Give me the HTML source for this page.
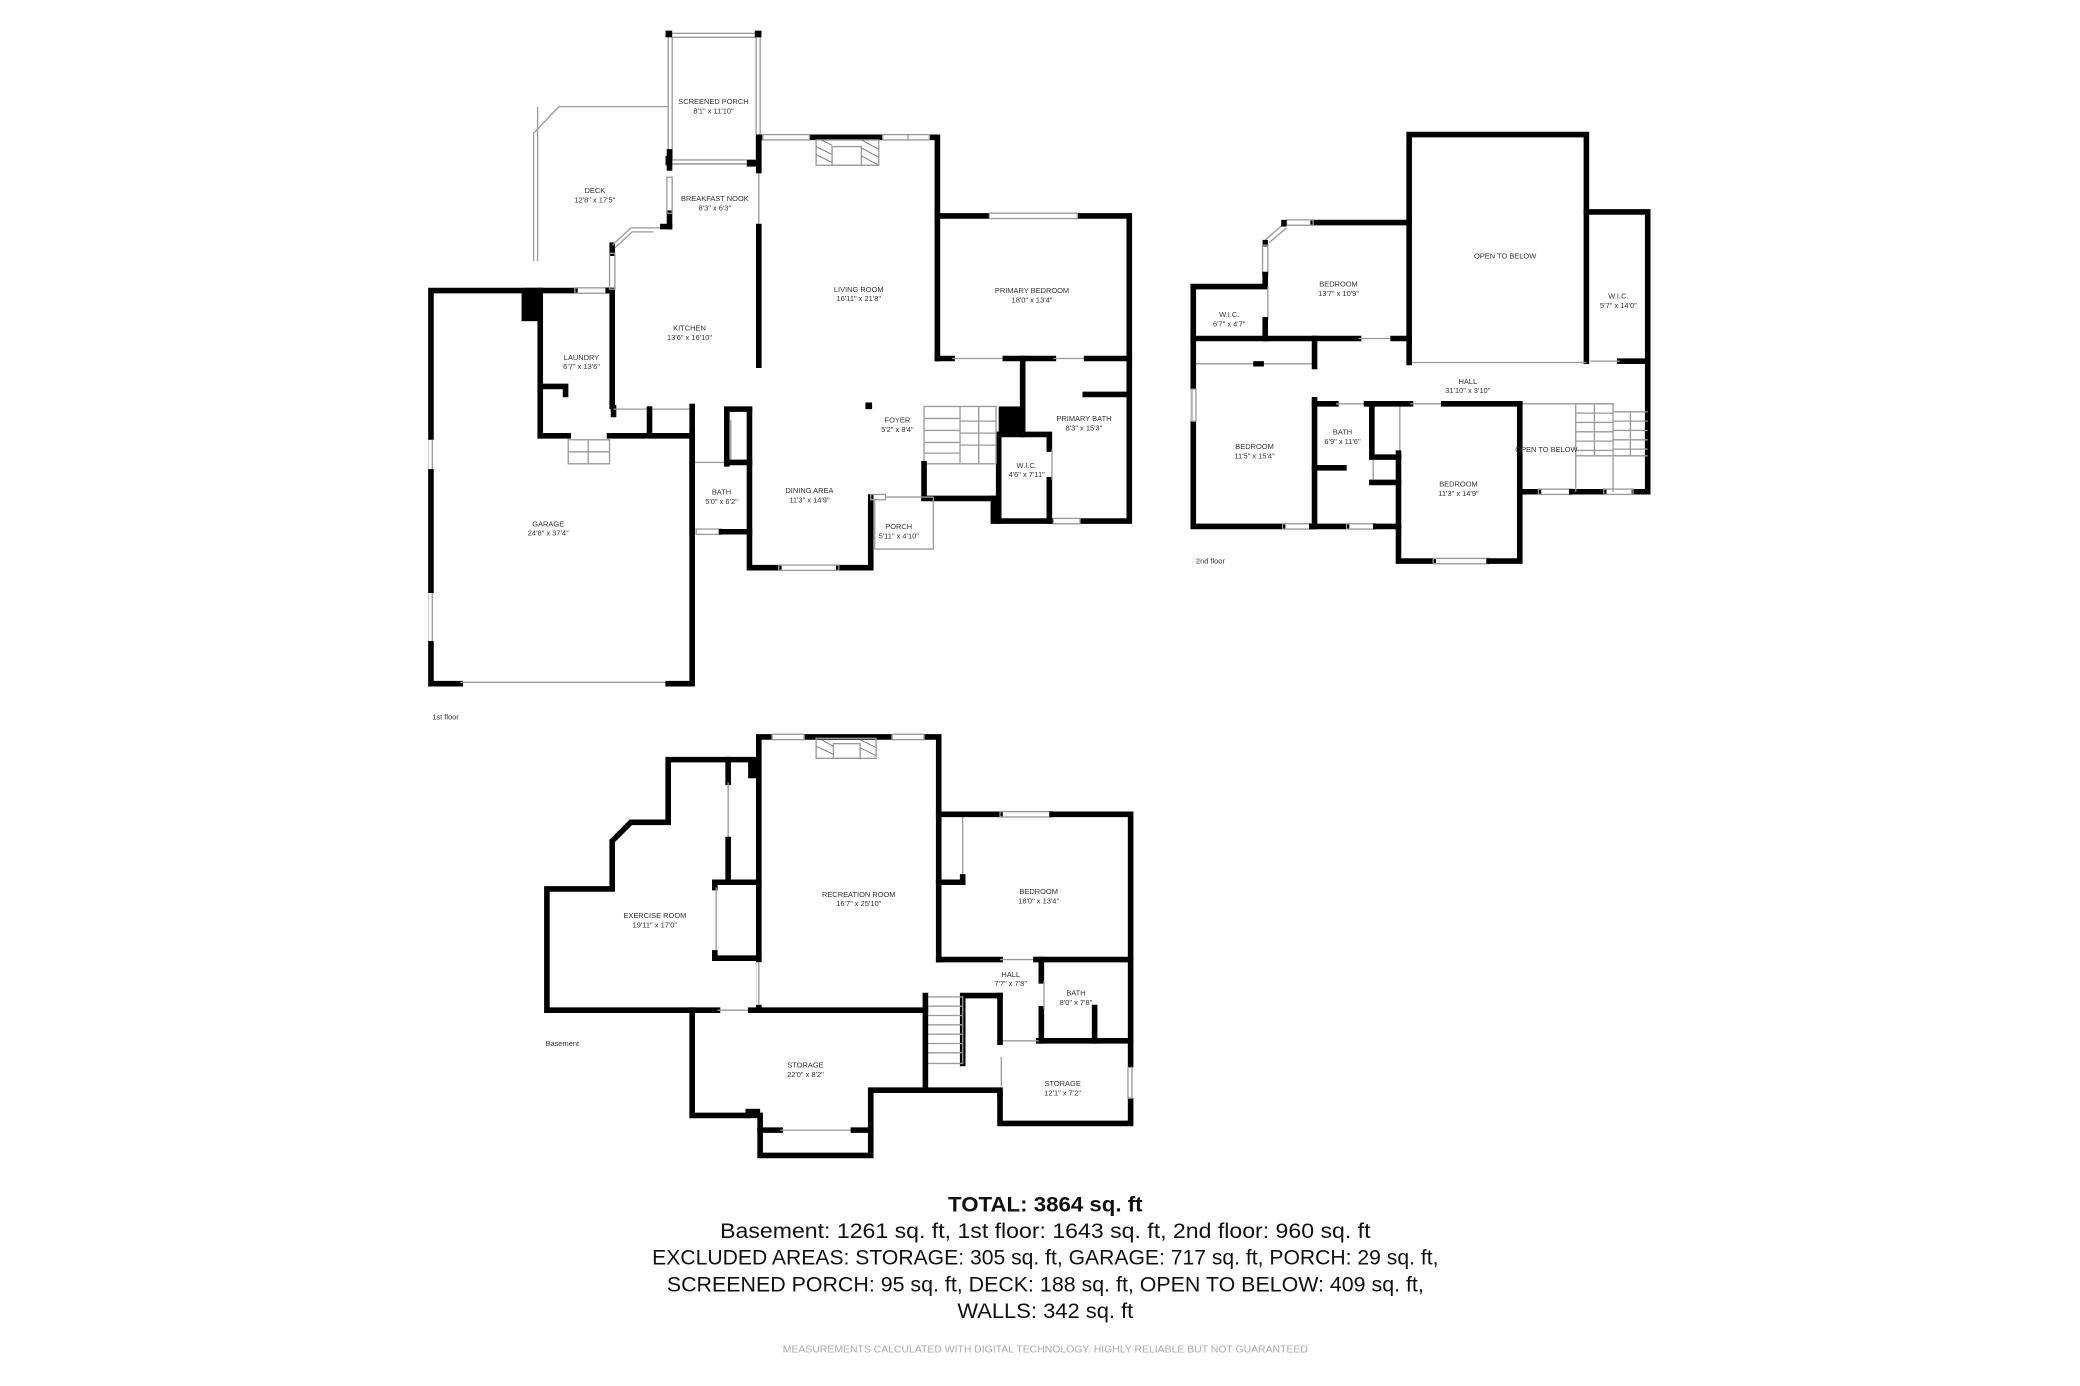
<!DOCTYPE html>
<html><head><meta charset="utf-8"><style>
html,body{margin:0;padding:0;background:#fff;}
svg{display:block;}
text{font-family:"Liberation Sans",sans-serif;}
.l{font-size:5.6px;fill:#333;text-anchor:middle;}
.w{stroke:#000;stroke-width:4.2;fill:none;stroke-linecap:square;}
.t{stroke:#9a9a9a;stroke-width:1;fill:none;}
.f{fill:#000;}
.tot{fill:#111;text-anchor:middle;}
</style></head><body>
<svg width="2080" height="1386" viewBox="0 0 1560 1040" xmlns="http://www.w3.org/2000/svg">
<rect width="1560" height="1040" fill="#fff"/>

<!-- ============ 1ST FLOOR ============ -->
<polyline class="t" points="501,80 419,80 400,100 400,196"/>
<polyline class="t" points="403,80 403,196"/>
<rect class="t" x="501" y="25" width="69" height="98"/>
<rect class="t" x="504" y="28" width="63" height="92"/>
<rect class="f" x="499" y="23" width="5" height="5"/>
<rect class="f" x="566" y="23" width="5" height="5"/>
<rect class="f" x="499" y="117" width="5" height="7"/>
<rect class="f" x="560" y="120" width="10" height="5"/>
<polyline class="w" points="345,513 323,513 323,218 431,218"/>
<line class="t" x1="345" y1="512" x2="501" y2="512"/>
<polyline class="w" points="501,513 519,513 519,325"/>
<rect class="f" x="391" y="216" width="15" height="25"/>
<rect fill="#fff" x="321" y="330" width="5" height="22"/>
<line class="t" x1="324" y1="330" x2="324" y2="352"/>
<rect fill="#fff" x="321" y="445" width="5" height="36"/>
<line class="t" x1="324" y1="445" x2="324" y2="481"/>
<rect class="t" x="431" y="216" width="25" height="4"/>
<line class="w" x1="456" y1="218" x2="459" y2="218"/>
<polyline class="w" points="405,218 405,327 426,327"/>
<polyline class="w" points="405,290 424,290 424,296"/>
<line class="w" x1="457" y1="327" x2="519" y2="327"/>
<rect class="t" x="426" y="330" width="31" height="18"/>
<line class="t" x1="441" y1="330" x2="441" y2="348"/>
<line class="t" x1="426" y1="339" x2="457" y2="339"/>
<line class="w" x1="459" y1="218" x2="459" y2="305"/>
<line class="w" x1="459" y1="190" x2="459" y2="184"/>
<rect class="t" x="457" y="190" width="4" height="27"/>
<polyline class="t" points="459,184 473,171 502,171"/>
<polyline class="t" points="461,186 474,174 490,174"/>
<line class="w" x1="497" y1="170" x2="502" y2="170"/>
<line class="w" x1="502" y1="170" x2="502" y2="160"/>
<rect class="t" x="500" y="133" width="4" height="27"/>
<line class="w" x1="502" y1="126" x2="502" y2="114"/>
<line class="t" x1="505" y1="123" x2="560" y2="123"/>
<line class="w" x1="569" y1="103" x2="569" y2="128"/>
<line class="t" x1="569" y1="130" x2="569" y2="170"/>
<line class="w" x1="569" y1="170" x2="569" y2="274"/>
<polyline class="w" points="569,103 703,103 703,162 847,162 847,391 745,391 745,374"/>
<rect fill="#fff" x="572" y="100" width="35" height="6"/><rect class="t" x="572" y="101" width="35" height="4"/>
<rect fill="#fff" x="662" y="100" width="35" height="6"/><rect class="t" x="662" y="101" width="35" height="4"/>
<line class="t" x1="681" y1="101" x2="681" y2="105"/>
<rect class="t" x="612" y="105" width="47" height="19"/>
<rect class="t" x="624" y="110" width="22" height="14"/>
<g stroke="#777" stroke-width=".7">
<line x1="612" y1="110" x2="624" y2="116"/><line x1="612" y1="116" x2="624" y2="122"/><line x1="616" y1="105" x2="624" y2="109"/><line x1="646" y1="105" x2="659" y2="112"/><line x1="646" y1="111" x2="659" y2="118"/><line x1="646" y1="117" x2="659" y2="124"/></g>
<rect fill="#fff" x="742" y="159" width="66" height="6"/><rect class="t" x="742" y="160" width="66" height="4"/>
<line class="w" x1="703" y1="162" x2="703" y2="269"/>
<line class="w" x1="703" y1="269" x2="714" y2="269"/>
<line class="t" x1="714" y1="269" x2="754" y2="269"/>
<line class="w" x1="754" y1="269" x2="790" y2="269"/>
<line class="t" x1="790" y1="269" x2="815" y2="269"/>
<line class="w" x1="815" y1="269" x2="847" y2="269"/>
<line class="w" x1="767" y1="269" x2="767" y2="326"/>
<line class="w" x1="814" y1="296" x2="845" y2="296"/>
<rect class="f" x="749" y="305" width="19" height="22"/>
<polyline class="w" points="749,326 787,326 787,337"/>
<line class="w" x1="787" y1="360" x2="787" y2="391"/>
<line class="t" x1="789" y1="337" x2="789" y2="360"/>
<line class="w" x1="749" y1="326" x2="749" y2="391"/>
<rect fill="#fff" x="790" y="388" width="20" height="6"/><rect class="t" x="790" y="389" width="20" height="4"/>
<rect class="t" x="693" y="305" width="54" height="43"/>
<g class="t"><line x1="720" y1="305" x2="720" y2="348"/><line x1="693" y1="314" x2="720" y2="314"/><line x1="693" y1="323" x2="720" y2="323"/><line x1="693" y1="332" x2="720" y2="332"/><line x1="693" y1="340" x2="720" y2="340"/>
<line x1="734" y1="305" x2="734" y2="348"/><line x1="720" y1="316" x2="747" y2="316"/><line x1="720" y1="325" x2="747" y2="325"/><line x1="720" y1="334" x2="747" y2="334"/></g>
<polyline class="w" points="693,348 693,374 745,374"/>
<polyline class="w" points="460,306 460,311"/>
<line class="t" x1="460" y1="307" x2="520" y2="307"/>
<line class="w" x1="487" y1="307" x2="487" y2="325"/>
<line class="w" x1="519" y1="305" x2="519" y2="327"/>
<polyline class="w" points="562,308 562,426 584,426"/>
<line class="w" x1="629" y1="426" x2="653" y2="426"/>
<rect class="t" x="584" y="424" width="45" height="4"/>
<line class="w" x1="653" y1="426" x2="653" y2="373"/>
<rect class="t" x="653" y="371" width="11" height="4"/>
<line class="t" x1="664" y1="373" x2="700" y2="373"/>
<polyline class="t" points="656,375 656,412 700,412 700,373"/>
<polyline class="w" points="562,307 545,307 545,348"/>
<line class="t" x1="548" y1="315" x2="548" y2="345"/>
<polyline class="w" points="519,327 519,348"/>
<line class="t" x1="521" y1="347" x2="545" y2="347"/>
<line class="w" x1="545" y1="347" x2="562" y2="347"/>
<rect class="t" x="522" y="397" width="19" height="4"/>
<line class="w" x1="541" y1="399" x2="562" y2="399"/>
<line class="w" x1="519" y1="348" x2="519" y2="400"/>
<rect class="f" x="649" y="302" width="5" height="5"/>

<text class="l" x="535" y="78">SCREENED PORCH</text><text class="l" x="535" y="85">8'1" x 11'10"</text>
<text class="l" x="446" y="145">DECK</text><text class="l" x="446" y="152">12'8" x 17'5"</text>
<text class="l" x="536" y="151">BREAKFAST NOOK</text><text class="l" x="536" y="158">8'3" x 6'3"</text>
<text class="l" x="644" y="219">LIVING ROOM</text><text class="l" x="644" y="226">16'11" x 21'8"</text>
<text class="l" x="774" y="220">PRIMARY BEDROOM</text><text class="l" x="774" y="227">18'0" x 13'4"</text>
<text class="l" x="517" y="248">KITCHEN</text><text class="l" x="517" y="255">13'6" x 16'10"</text>
<text class="l" x="436" y="270">LAUNDRY</text><text class="l" x="436" y="277">6'7" x 13'6"</text>
<text class="l" x="673" y="317">FOYER</text><text class="l" x="673" y="324">5'2" x 8'4"</text>
<text class="l" x="813" y="316">PRIMARY BATH</text><text class="l" x="813" y="323">8'3" x 15'3"</text>
<text class="l" x="770" y="351">W.I.C.</text><text class="l" x="770" y="358">4'6" x 7'11"</text>
<text class="l" x="607" y="370">DINING AREA</text><text class="l" x="607" y="377">11'3" x 14'9"</text>
<text class="l" x="541" y="371">BATH</text><text class="l" x="541" y="378">5'0" x 6'2"</text>
<text class="l" x="674" y="397">PORCH</text><text class="l" x="674" y="404">5'11" x 4'10"</text>
<text class="l" x="411" y="395">GARAGE</text><text class="l" x="411" y="402">24'8" x 37'4"</text>
<text x="324" y="540" font-size="5.6" fill="#333">1st floor</text>

<!-- ============ 2ND FLOOR ============ -->
<polyline class="w" points="1057,272 1057,101 1190,101 1190,271"/>
<line class="t" x1="1059" y1="272" x2="1190" y2="272"/>
<polyline class="w" points="1190,159 1236,159 1236,369 1226,369"/>
<line class="w" x1="1215" y1="271" x2="1236" y2="271"/>
<line class="t" x1="1193" y1="271" x2="1215" y2="271"/>
<polyline class="w" points="1057,167 985,167"/>
<rect class="t" x="965" y="165" width="20" height="4"/>
<polyline class="t" points="963,168 949,180"/>
<polyline class="t" points="965,171 952,182"/>
<rect class="f" x="961" y="165" width="4" height="5"/><rect class="f" x="947" y="180" width="4" height="5"/>
<rect class="t" x="947" y="184" width="4" height="22"/>
<polyline class="w" points="949,206 949,215 895,215 895,395 962,395"/>
<line class="t" x1="951" y1="215" x2="951" y2="240"/>
<line class="w" x1="949" y1="240" x2="949" y2="254"/>
<line class="w" x1="895" y1="254" x2="1019" y2="254"/>
<line class="t" x1="1019" y1="254" x2="1045" y2="254"/>
<line class="w" x1="1045" y1="254" x2="1057" y2="254"/>
<rect fill="#fff" x="893" y="292" width="5" height="24"/><rect class="t" x="894" y="292" width="3" height="24"/>
<line class="t" x1="897" y1="273" x2="986" y2="273"/>
<rect class="f" x="940" y="271" width="8" height="4"/>
<line class="w" x1="986" y1="254" x2="986" y2="275"/>
<line class="w" x1="986" y1="300" x2="986" y2="395"/>
<rect class="t" x="962" y="393" width="22" height="4"/>
<line class="w" x1="984" y1="395" x2="1010" y2="395"/>
<rect class="t" x="1010" y="393" width="22" height="4"/>
<line class="w" x1="1032" y1="395" x2="1049" y2="395"/>
<line class="w" x1="986" y1="303" x2="1002" y2="303"/>
<line class="t" x1="1002" y1="303" x2="1025" y2="303"/>
<line class="w" x1="1025" y1="303" x2="1058" y2="303"/>
<line class="t" x1="1058" y1="303" x2="1083" y2="303"/>
<line class="w" x1="1083" y1="303" x2="1140" y2="303"/>
<line class="t" x1="1140" y1="303" x2="1211" y2="303"/>
<line class="w" x1="986" y1="351" x2="1008" y2="351"/>
<polyline class="w" points="1029,303 1029,343 1049,343"/>
<line class="w" x1="1029" y1="362" x2="1049" y2="362"/>
<line class="t" x1="1030" y1="345" x2="1030" y2="360"/>
<line class="t" x1="1050" y1="305" x2="1050" y2="340"/>
<polyline class="w" points="1049,340 1049,421 1075,421"/>
<rect class="t" x="1075" y="419" width="42" height="4"/>
<polyline class="w" points="1117,421 1140,421 1140,303"/>
<line class="w" x1="1140" y1="369" x2="1154" y2="369"/>
<rect class="t" x="1154" y="367" width="25" height="4"/>
<line class="w" x1="1179" y1="369" x2="1203" y2="369"/>
<rect class="t" x="1203" y="367" width="22" height="4"/>
<g class="t"><polyline points="1182,369 1182,303 1210,303 1210,369"/><line x1="1182" y1="342" x2="1236" y2="342"/><line x1="1210" y1="309" x2="1236" y2="309"/>
<line x1="1196" y1="303" x2="1196" y2="342"/><line x1="1223" y1="309" x2="1223" y2="342"/>
<line x1="1182" y1="310" x2="1210" y2="310"/><line x1="1182" y1="317" x2="1210" y2="317"/><line x1="1182" y1="324" x2="1210" y2="324"/><line x1="1182" y1="331" x2="1210" y2="331"/><line x1="1182" y1="338" x2="1210" y2="338"/>
<line x1="1210" y1="316" x2="1236" y2="316"/><line x1="1210" y1="323" x2="1236" y2="323"/><line x1="1210" y1="330" x2="1236" y2="330"/><line x1="1210" y1="337" x2="1236" y2="337"/></g>

<text class="l" x="1129" y="194">OPEN TO BELOW</text>
<text class="l" x="1214" y="224">W.I.C.</text><text class="l" x="1214" y="231">5'7" x 14'0"</text>
<text class="l" x="1004" y="215">BEDROOM</text><text class="l" x="1004" y="222">13'7" x 10'9"</text>
<text class="l" x="922" y="238">W.I.C.</text><text class="l" x="922" y="245">6'7" x 4'7"</text>
<text class="l" x="1101" y="288">HALL</text><text class="l" x="1101" y="295">31'10" x 3'10"</text>
<text class="l" x="941" y="337">BEDROOM</text><text class="l" x="941" y="344">11'5" x 15'4"</text>
<text class="l" x="1007" y="326">BATH</text><text class="l" x="1007" y="333">6'9" x 11'6"</text>
<text class="l" x="1160" y="339">OPEN TO BELOW</text>
<text class="l" x="1094" y="365">BEDROOM</text><text class="l" x="1094" y="372">11'3" x 14'9"</text>
<text x="897" y="423" font-size="5.6" fill="#333">2nd floor</text>

<!-- ============ BASEMENT ============ -->
<polyline class="w" points="569,758 569,553 704,553 704,720"/>
<rect fill="#fff" x="579" y="550" width="24" height="6"/><rect class="t" x="579" y="551" width="24" height="4"/>
<rect fill="#fff" x="669" y="550" width="24" height="6"/><rect class="t" x="669" y="551" width="24" height="4"/>
<rect fill="#fff" x="567" y="722" width="5" height="32"/><line class="t" x1="569" y1="722" x2="569" y2="754"/>
<rect class="t" x="612" y="554" width="45" height="15"/>
<rect class="t" x="625" y="558" width="20" height="11"/>
<g stroke="#777" stroke-width=".7"><line x1="612" y1="560" x2="625" y2="566"/><line x1="616" y1="555" x2="625" y2="560"/><line x1="645" y1="555" x2="657" y2="561"/><line x1="645" y1="561" x2="657" y2="567"/></g>
<polyline class="w" points="567,570 501,570 501,617 473,617 459,631 459,667 410,667 410,758 538,758"/>
<line class="t" x1="538" y1="758" x2="563" y2="758"/>
<line class="w" x1="563" y1="758" x2="694" y2="758"/>
<rect class="f" x="561" y="570" width="8" height="14"/>
<line class="w" x1="546" y1="570" x2="546" y2="587"/>
<line class="t" x1="546" y1="587" x2="546" y2="630"/>
<line class="w" x1="546" y1="630" x2="546" y2="662"/>
<polyline class="w" points="569,662 536,662 536,666"/>
<line class="t" x1="537" y1="666" x2="537" y2="715"/>
<polyline class="w" points="536,715 536,719 569,719"/>
<polyline class="w" points="704,611 750,611"/>
<rect class="t" x="750" y="609" width="39" height="4"/>
<polyline class="w" points="789,611 848,611 848,843 750,843 750,821"/>
<line class="t" x1="722" y1="613" x2="722" y2="660"/>
<polyline class="w" points="704,662 722,662 722,658"/>
<line class="w" x1="704" y1="720" x2="750" y2="720"/>
<line class="t" x1="750" y1="720" x2="777" y2="720"/>
<line class="w" x1="777" y1="720" x2="848" y2="720"/>
<line class="w" x1="781" y1="720" x2="781" y2="736"/>
<line class="w" x1="781" y1="757" x2="781" y2="781"/>
<line class="t" x1="783" y1="736" x2="783" y2="757"/>
<line class="w" x1="821" y1="756" x2="821" y2="781"/>
<line class="w" x1="779" y1="781" x2="848" y2="781"/>
<line class="t" x1="752" y1="781" x2="779" y2="781"/>
<rect fill="#fff" x="845" y="801" width="6" height="23"/><rect class="t" x="846" y="801" width="3" height="23"/>
<line class="w" x1="750" y1="747" x2="750" y2="782"/>
<line class="t" x1="751" y1="793" x2="751" y2="815"/>
<polyline class="w" points="722,798 722,747 750,747"/>
<g class="t"><rect x="695" y="748" width="27" height="50"/><line x1="695" y1="755" x2="722" y2="755"/><line x1="695" y1="762" x2="722" y2="762"/><line x1="695" y1="769" x2="722" y2="769"/><line x1="695" y1="776" x2="722" y2="776"/><line x1="695" y1="783" x2="722" y2="783"/><line x1="695" y1="790" x2="722" y2="790"/></g>
<polyline class="w" points="519,758 519,837 561,837"/>
<rect class="f" x="559" y="832" width="11" height="7"/>
<polyline class="w" points="570,837 570,867 653,867 653,818 750,818 750,821"/>
<line class="w" x1="694" y1="747" x2="694" y2="818"/>
<line class="w" x1="570" y1="848" x2="585" y2="848"/>
<line class="t" x1="585" y1="848" x2="640" y2="848"/>
<line class="w" x1="640" y1="848" x2="653" y2="848"/>

<text class="l" x="644" y="673">RECREATION ROOM</text><text class="l" x="644" y="680">16'7" x 25'10"</text>
<text class="l" x="491" y="689">EXERCISE ROOM</text><text class="l" x="491" y="696">19'11" x 17'0"</text>
<text class="l" x="779" y="671">BEDROOM</text><text class="l" x="779" y="678">18'0" x 13'4"</text>
<text class="l" x="758" y="733">HALL</text><text class="l" x="758" y="740">7'7" x 7'8"</text>
<text class="l" x="807" y="747">BATH</text><text class="l" x="807" y="754">8'0" x 7'8"</text>
<text class="l" x="604" y="801">STORAGE</text><text class="l" x="604" y="808">22'0" x 8'2"</text>
<text class="l" x="797" y="815">STORAGE</text><text class="l" x="797" y="822">12'1" x 7'2"</text>
<text x="409" y="785" font-size="5.6" fill="#333">Basement</text>

<!-- ============ TOTALS ============ -->
<text class="tot" x="784" y="909" font-size="16" font-weight="bold" textLength="146" lengthAdjust="spacingAndGlyphs">TOTAL: 3864 sq. ft</text>
<text class="tot" x="784" y="929" font-size="16" textLength="488" lengthAdjust="spacingAndGlyphs">Basement: 1261 sq. ft, 1st floor: 1643 sq. ft, 2nd floor: 960 sq. ft</text>
<text class="tot" x="784" y="949" font-size="16" textLength="590" lengthAdjust="spacingAndGlyphs">EXCLUDED AREAS: STORAGE: 305 sq. ft, GARAGE: 717 sq. ft, PORCH: 29 sq. ft,</text>
<text class="tot" x="784" y="969" font-size="16" textLength="568" lengthAdjust="spacingAndGlyphs">SCREENED PORCH: 95 sq. ft, DECK: 188 sq. ft, OPEN TO BELOW: 409 sq. ft,</text>
<text class="tot" x="784" y="989" font-size="16" textLength="132" lengthAdjust="spacingAndGlyphs">WALLS: 342 sq. ft</text>
<text x="784" y="1015" font-size="7.5" fill="#aaa" text-anchor="middle" textLength="394" lengthAdjust="spacingAndGlyphs">MEASUREMENTS CALCULATED WITH DIGITAL TECHNOLOGY. HIGHLY RELIABLE BUT NOT GUARANTEED</text>
</svg>
</body></html>
